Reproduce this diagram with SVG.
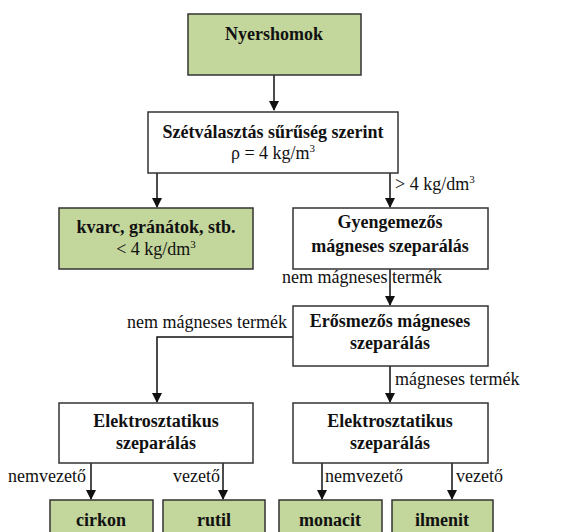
<svg xmlns="http://www.w3.org/2000/svg" width="565" height="532" viewBox="0 0 565 532">
<style>
.box{fill:#fff;stroke:#333;stroke-width:1.5}
.g{fill:#c3d69b}
.b{font-family:Liberation Serif,Times New Roman,serif;font-weight:bold;font-size:18px;fill:#111;text-anchor:middle}
.r{font-family:Liberation Serif,Times New Roman,serif;font-size:18px;fill:#111}
.c{text-anchor:middle}
.ln{fill:none;stroke:#111;stroke-width:1.5}
</style>
<defs>
<marker id="ah" markerWidth="10" markerHeight="10" refX="9" refY="5" orient="auto" markerUnits="userSpaceOnUse">
<path d="M0,0 L10,5 L0,10 Z" fill="#111"/>
</marker>
</defs>
<rect width="565" height="532" fill="#fff"/>
<g id="connectors">
<path class="ln" d="M274,75 V110" marker-end="url(#ah)"/>
<path class="ln" d="M157,173 V207" marker-end="url(#ah)"/>
<path class="ln" d="M390,173 V207" marker-end="url(#ah)"/>
<path class="ln" d="M390,269 V305" marker-end="url(#ah)"/>
<path class="ln" d="M293,337 H157 V402" marker-end="url(#ah)"/>
<path class="ln" d="M390,366 V402" marker-end="url(#ah)"/>
<path class="ln" d="M91,463 V499" marker-end="url(#ah)"/>
<path class="ln" d="M223,463 V499" marker-end="url(#ah)"/>
<path class="ln" d="M322,463 V499" marker-end="url(#ah)"/>
<path class="ln" d="M452,463 V499" marker-end="url(#ah)"/>
<text class="r" font-family="Liberation Serif" x="395" y="190">&gt; 4 kg/dm<tspan font-size="11" dy="-7">3</tspan></text>
<text class="r" font-family="Liberation Serif" x="282" y="283">nem mágneses termék</text>
<text class="r" font-family="Liberation Serif" x="127" y="328">nem mágneses termék</text>
<text class="r" font-family="Liberation Serif" x="395" y="385">mágneses termék</text>
<text class="r" font-family="Liberation Serif" x="8" y="482">nemvezető</text>
<text class="r" font-family="Liberation Serif" x="173" y="482">vezető</text>
<text class="r" font-family="Liberation Serif" x="325" y="482">nemvezető</text>
<text class="r" font-family="Liberation Serif" x="456" y="482">vezető</text>
</g>
<g id="nyershomok">
<rect class="box g" x="188" y="14" width="173" height="61"/>
<text class="b" font-family="Liberation Serif" x="274" y="40">Nyershomok</text>
</g>
<g id="szetvalasztas">
<rect class="box" x="148" y="112" width="250" height="61"/>
<text class="b" font-family="Liberation Serif" x="273" y="138">Szétválasztás sűrűség szerint</text>
<text class="r c" font-family="Liberation Serif" x="273" y="159">ρ = 4 kg/m<tspan font-size="11" dy="-7">3</tspan></text>
</g>
<g id="kvarc">
<rect class="box g" x="59" y="208" width="194" height="61"/>
<text class="b" font-family="Liberation Serif" x="156" y="233">kvarc, gránátok, stb.</text>
<text class="r c" font-family="Liberation Serif" x="156" y="255">&lt; 4 kg/dm<tspan font-size="11" dy="-7">3</tspan></text>
</g>
<g id="gyengemezos">
<rect class="box" x="293" y="208" width="195" height="61"/>
<text class="b" font-family="Liberation Serif" x="390" y="228">Gyengemezős</text>
<text class="b" font-family="Liberation Serif" x="390" y="252">mágneses szeparálás</text>
</g>
<g id="erosmezos">
<rect class="box" x="293" y="306" width="195" height="60"/>
<text class="b" font-family="Liberation Serif" x="390" y="327">Erősmezős mágneses</text>
<text class="b" font-family="Liberation Serif" x="390" y="349">szeparálás</text>
</g>
<g id="elektro1">
<rect class="box" x="59" y="403" width="194" height="60"/>
<text class="b" font-family="Liberation Serif" x="156" y="427">Elektrosztatikus</text>
<text class="b" font-family="Liberation Serif" x="156" y="449">szeparálás</text>
</g>
<g id="elektro2">
<rect class="box" x="293" y="403" width="195" height="60"/>
<text class="b" font-family="Liberation Serif" x="390" y="427">Elektrosztatikus</text>
<text class="b" font-family="Liberation Serif" x="390" y="449">szeparálás</text>
</g>
<g id="cirkon">
<rect class="box g" x="50" y="500" width="103" height="50"/>
<text class="b" font-family="Liberation Serif" x="101" y="526">cirkon</text>
</g>
<g id="rutil">
<rect class="box g" x="163" y="500" width="102" height="50"/>
<text class="b" font-family="Liberation Serif" x="214" y="526">rutil</text>
</g>
<g id="monacit">
<rect class="box g" x="279" y="500" width="103" height="50"/>
<text class="b" font-family="Liberation Serif" x="330" y="526">monacit</text>
</g>
<g id="ilmenit">
<rect class="box g" x="392" y="500" width="101" height="50"/>
<text class="b" font-family="Liberation Serif" x="442" y="526">ilmenit</text>
</g>
</svg>
